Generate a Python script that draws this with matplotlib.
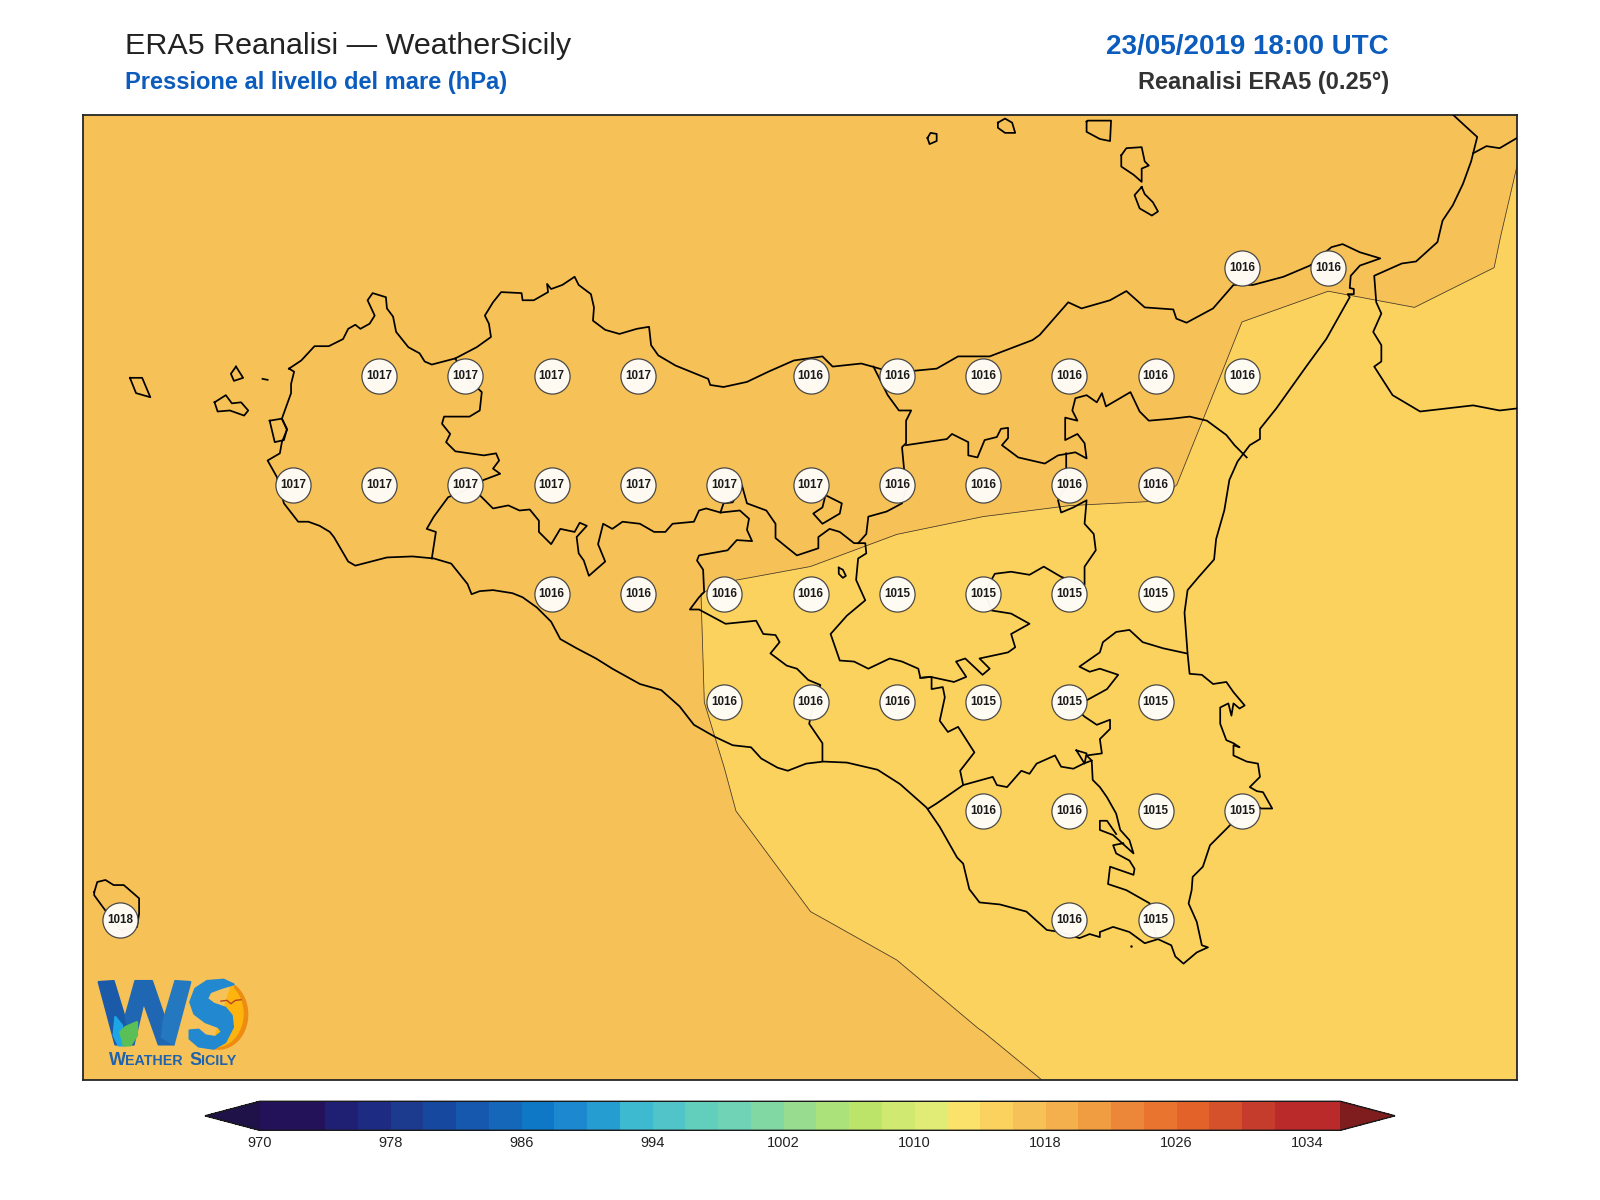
import numpy as np
import matplotlib
matplotlib.use("Agg")
import matplotlib.pyplot as plt
from matplotlib.colors import ListedColormap, BoundaryNorm
from matplotlib.patches import Polygon

plt.rcParams['font.family'] = ['Liberation Sans', 'DejaVu Sans']

TITLE = "ERA5 Reanalisi \u2014 WeatherSicily"
SUBTITLE = "Pressione al livello del mare (hPa)"
DATE_TEXT = "23/05/2019 18:00 UTC"
SOURCE_TEXT = "Reanalisi ERA5 (0.25\u00b0)"

LEVELS = list(range(970, 1038, 2))
CBAR_TICKS = list(range(970, 1035, 8))
LEVEL_COLORS = ["#23115a", "#23115a", "#1f1f73", "#1e2b82", "#1c3a8e", "#1748a0", "#1558ae", "#1467b9",
                "#0e78c7", "#1b88cf", "#259dd0", "#3db9d0", "#50c4c8", "#62cfbd", "#70d3b5", "#82d8a2",
                "#97dc8f", "#ace27a", "#bbe468", "#d0e970", "#e0ec75", "#fbe36b", "#fcd25e", "#f6c156",
                "#f4b04c", "#f09c40", "#ec8638", "#e87430", "#e2622a", "#d4512c", "#c63c2c", "#bb2a2b", "#bb2a2b"]
UNDER_COLOR = "#1e1248"
OVER_COLOR = "#7f1d1e"

# ERA5 grid, 0.25 deg (sea level pressure, departure from 1016 hPa)
GRID_LON = [11.75 + 0.25 * i for i in range(19)]
GRID_LAT = [38.75, 38.5, 38.25, 38.0, 37.75, 37.5, 37.25, 37.0, 36.75, 36.5, 36.25]
P_3875 = [.9, .9, .85, .8, .8, .75, .7, .65, .6, .55, .5, .45, .4, .35, .3, .25, .2, .1, .05]
P_3850 = [1.0, .95, .9, .85, .85, .8, .75, .7, .6, .55, .5, .45, .4, .3, .25, .2, .15, .06, -.23]
P_3825 = [1.05, 1.0, .95, .9, .85, .8, .75, .7, .6, .5, .45, .4, .3, .2, .10, .05, .3, -.025, -.3]
P_3800 = [1.15, 1.1, 1.0, .9, .85, .75, .65, .55, .5, .45, .4, .35, .3, .30, -.10, -.18, -.52, -.7, -.8]
P_3775 = [1.25, 1.2, 1.1, 1.0, .95, .85, .8, .7, .6, .6, .45, .25, .15, .10, -.31, -.6, -.75, -.85, -.9]
P_3750 = [1.35, 1.3, 1.15, 1.0, .85, .6, .35, .19, -.07, -.2, -.54, -.61, -.64, -.57, -.7, -.8, -.85, -.9, -.95]
P_3725 = [1.45, 1.4, 1.2, 1.0, .85, .7, .55, .40, -.12, -.3, -.4, -.55, -.6, -.6, -.7, -.8, -.85, -.9, -.95]
P_3700 = [1.55, 1.5, 1.3, 1.1, .9, .7, .5, .25, .08, -.506, -.55, -.6, -.48, -.55, -.6, -.7, -.8, -.85, -.9]
P_3675 = [1.65, 1.6, 1.4, 1.2, 1.0, .8, .6, .4, .2, .041, -.2, -.3, -.4, -.55, -.6, -.7, -.75, -.8, -.85]
P_3650 = [1.7, 1.6, 1.4, 1.25, 1.1, .95, .8, .65, .5, .42, .34, -.02, -.3, -.5, -.6, -.65, -.7, -.75, -.8]
P_3625 = [1.75, 1.65, 1.5, 1.35, 1.2, 1.05, .95, .85, .75, .7, .68, .65, .14, -.3, -.5, -.6, -.65, -.7, -.75]

STATION_LON = [15.25, 15.5,
               12.75, 13.0, 13.25, 13.5, 14.0, 14.25, 14.5, 14.75, 15.0, 15.25,
               12.5, 12.75, 13.0, 13.25, 13.5, 13.75, 14.0, 14.25, 14.5, 14.75, 15.0,
               13.25, 13.5, 13.75, 14.0, 14.25, 14.5, 14.75, 15.0,
               13.75, 14.0, 14.25, 14.5, 14.75, 15.0,
               14.5, 14.75, 15.0, 15.25,
               12.0, 14.75, 15.0]
STATION_LAT = [38.25, 38.25,
               38.0, 38.0, 38.0, 38.0, 38.0, 38.0, 38.0, 38.0, 38.0, 38.0,
               37.75, 37.75, 37.75, 37.75, 37.75, 37.75, 37.75, 37.75, 37.75, 37.75, 37.75,
               37.5, 37.5, 37.5, 37.5, 37.5, 37.5, 37.5, 37.5,
               37.25, 37.25, 37.25, 37.25, 37.25, 37.25,
               37.0, 37.0, 37.0, 37.0,
               36.75, 36.75, 36.75]
STATION_HPA = [1016, 1016,
               1017, 1017, 1017, 1017, 1016, 1016, 1016, 1016, 1016, 1016,
               1017, 1017, 1017, 1017, 1017, 1017, 1017, 1016, 1016, 1016, 1016,
               1016, 1016, 1016, 1016, 1015, 1015, 1015, 1015,
               1016, 1016, 1016, 1015, 1015, 1015,
               1016, 1016, 1015, 1015,
               1018, 1016, 1015]

# Coast and boundary outlines (picture units, converted to lon/lat below)
SICILY = [(283,361),(295,353),(308,339),(322,339),(336,332),(341,322),(348,318),(353,322),(362,317),(367,309),
          (360,294),(365,287),(378,291),(379,302),(385,310),(388,325),(400,340),(411,346),(416,354),(423,357),
          (446,351),(467,340),(481,330),(479,317),(475,309),(483,296),(491,286),(511,287),(512,294),(523,294),
          (537,286),(536,278),(540,283),(551,279),(563,271),(567,279),(579,288),(582,301),(581,314),(593,323),
          (607,327),(624,322),(636,320),(638,338),(645,348),(662,358),(694,371),(696,377),(709,379),(732,374),(753,364),
          (778,353),(806,349),(816,359),(844,356),(855,359),(879,366),(897,363),(918,361),(939,349),(970,349),
          (991,341),(1012,333),(1019,328),(1047,296),(1060,302),(1088,294),(1104,285),(1122,301),(1150,303),
          (1153,312),(1163,316),(1189,302),(1209,279),(1228,279),(1258,271),(1284,260),(1305,242),(1316,239),
          (1333,247),(1353,253),(1333,260),(1324,270),(1323,282),(1327,283),(1327,288),(1321,288),(1323,291),(1300,332),(1281,358),(1251,400),
          (1235,420),(1235,430),(1225,436),(1213,452),(1205,470),(1200,500),(1192,528),(1190,548),(1175,565),
          (1164,578),(1161,600),(1164,640),(1166,660),(1178,661),(1189,670),(1202,668),(1209,678),(1220,691),
          (1215,694),(1209,689),(1207,701),(1204,689),(1196,693),(1196,709),(1202,725),(1209,728),(1215,732),
          (1209,730),(1209,740),(1222,746),(1233,748),(1235,761),(1225,771),(1232,775),(1238,776),(1247,792),
          (1236,792),(1228,785),(1204,810),(1186,828),(1179,849),(1169,859),(1168,872),(1165,885),(1173,903),
          (1178,926),(1184,928),(1173,933),(1160,944),(1152,937),(1148,926),(1135,920),(1122,924),(1107,913),
          (1091,908),(1078,913),(1078,918),(1068,915),(1058,919),(1039,913),(1026,911),(1006,893),(980,886),
          (960,884),(950,871),(944,846),(938,840),(921,810),(908,791),(882,768),(860,754),(830,747),(807,746),
          (790,748),(772,755),(762,752),(746,743),(736,732),(718,730),(701,722),(680,710),(666,692),(648,676),
          (627,670),(600,655),(584,645),(565,635),(549,626),(540,609),(526,595),(512,585),(502,581),(483,578),
          (470,579),(462,582),(458,572),(442,552),(425,547),(404,545),(379,546),(348,554),(341,550),(327,526),
          (323,521),(313,515),(302,511),(292,511),(278,493),(271,467),(262,451),(274,444),(276,433),(281,421),
          (276,410),(285,385),(285,376),(288,364),(283,361)]
TRAPANI_BORDER = [(446,351),(456,369),(472,384),(470,402),(460,408),(435,408),(433,415),(441,425),(437,433),
                  (446,442),(474,446),(486,444),(489,451),(483,459),(490,464),(474,470),(456,480),(439,487),
                  (425,506),(418,518),(427,521),(423,547)]
PALERMO_SOUTH = [(470,485),(483,498),(498,495),(509,500),(519,499),(528,510),(528,521),(540,533),(549,518),
                 (563,521),(568,512),(575,515),(565,526),(567,542),(572,549),(577,564),(593,550),(586,533),
                 (591,513),(600,518),(610,511),(627,513),(641,521),(652,521),(659,513),(680,511),(685,500),
                 (692,498),(706,502),(725,500),(734,508),(732,519),(737,530),(722,529),(713,539),(685,544),
                 (683,549),(689,558),(690,580),(685,585),(676,597),(685,597),(711,611),(741,608),(748,621),
                 (760,622),(764,629),(755,640),(771,652),(781,655),(792,666),(804,671),(797,690),(793,709),
                 (806,728),(806,745)]
ENNA_LOOP = [(706,502),(709,493),(718,492),(727,475),(732,493),(751,500),(760,513),(760,527),(771,536),(781,544),
             (802,537),(802,526),(813,518),(823,521),(837,532),(848,532),(849,542),(841,547),(839,568),(848,588),
             (830,603),(814,621),(823,647),(837,648),(851,655),(872,645),(884,648),(900,655),(902,664),(912,663),
             (935,668),(947,663),(937,648),(946,645),(963,661),(970,655),(960,645),(988,639),(995,634),(991,621),
             (1009,611),(991,601),(972,598),(965,580),(975,562),(991,560),(1009,563),(1023,555),(1040,565),
             (1063,573),(1063,555),(1074,539),(1072,523),(1063,513),(1065,490),(1052,497),(1040,502),(1037,490),
             (1045,475),(1045,457),(1045,444)]
MESSINA_WEST = [(856,359),(870,387),(881,402),(893,402),(888,412),(888,434),(884,438),(886,459),(888,478),(884,493),
                (869,501),(851,506),(849,523),(841,532)]
MESSINA_SOUTH = [(888,436),(928,430),(933,425),(949,433),(949,446),(958,448),(965,431),(977,428),(981,420),(988,419),
                 (988,429),(982,436),(998,448),(1024,454),(1037,446),(1054,443),(1065,449),(1063,434),(1056,425),
                 (1044,431),(1044,409),(1056,412),(1051,402),(1054,390),(1065,387),(1075,394),(1080,385),(1084,398),
                 (1108,384),(1117,403),(1126,412),(1149,410),(1166,408),(1183,412),(1202,426),(1210,436),(1222,448)]
MADONIE_LOOP = [(809,485),(825,493),(823,503),(806,513),(797,503),(806,497),(809,485)]
LAKE = [(822,556),(826,558),(829,564),(826,566),(822,562),(822,556)]
CALTANISSETTA = [(902,664),(913,663),(913,675),(924,673),(926,683),(921,706),(929,717),(939,712),(955,737),(941,755),
                 (944,769),(918,787),(910,792)]
RAGUSA_NORTH = [(944,769),(973,761),(977,769),(987,771),(1001,755),(1009,758),(1016,748),(1034,740),(1040,751),
                (1052,753),(1062,748),(1070,745),(1071,764),(1078,771),(1085,781),(1094,797),(1098,813),(1107,823),
                (1111,836),(1091,818),(1078,813),(1078,804),(1085,804),(1094,817)]
RAGUSA_EAST = [(1101,826),(1091,828),(1094,836),(1107,843),(1112,851),(1111,857),(1088,849),(1086,866),(1104,872),
               (1127,885),(1133,918)]
CATANIA_NORTH = [(1048,688),(1065,686),(1085,675),(1096,661),(1078,655),(1068,658),(1058,653),(1078,639),(1081,629),
                 (1094,619),(1107,617),(1120,629),(1140,635),(1163,640)]
CATANIA_SOUTH = [(1048,688),(1063,702),(1075,710),(1088,705),(1088,714),(1078,724),(1080,738),(1065,740),(1070,745)]
LENTINI = [(1055,735),(1063,748),(1065,738),(1055,735)]
CALABRIA = [(1424,112),(1437,124),(1448,134),(1442,158),(1434,180),(1424,201),(1414,216),(1409,237),(1388,256),
            (1374,258),(1347,270),(1349,296),(1354,307),(1346,325),(1354,338),(1354,354),(1347,359),(1365,387),
            (1392,403),(1444,397),(1470,402),(1487,400)]
CALABRIA_NORTH = [(1444,150),(1457,143),(1470,145),(1487,135)]
SALINA = [(1065,119),(1066,118),(1089,118),(1088,138),(1078,136),(1065,129),(1065,119)]
LIPARI = [(1099,152),(1104,145),(1119,144),(1122,158),(1126,162),(1119,165),(1119,178),(1111,171),(1099,163),(1099,152)]
VULCANO = [(1119,183),(1112,191),(1117,204),(1129,211),(1135,207),(1130,198),(1122,190),(1119,183)]
ALICUDI = [(909,135),(912,130),(918,131),(918,138),(911,141),(909,135)]
FILICUDI = [(978,120),(985,116),(992,120),(995,130),(985,130),(978,125),(978,120)]
MARETTIMO = [(127,370),(139,370),(147,389),(133,385),(127,370)]
FAVIGNANA = [(210,394),(221,387),(227,395),(236,394),(243,402),(239,407),(225,402),(213,403),(210,394)]
LEVANZO = [(231,359),(238,370),(229,373),(226,366),(231,359)]
FORMICA = [(257,371),(262,372)]
STAGNONE = [(264,412),(276,410),(281,420),(278,431),(269,433),(264,412)]
PANTELLERIA = [(92,874),(95,864),(103,862),(111,867),(121,867),(136,880),(136,895),(134,908),(118,911),(103,892),(92,877),(92,874)]
OUTLINES = [SICILY, TRAPANI_BORDER, PALERMO_SOUTH, ENNA_LOOP, MESSINA_WEST, MESSINA_SOUTH, MADONIE_LOOP, LAKE,
            CALTANISSETTA, RAGUSA_NORTH, RAGUSA_EAST, CATANIA_NORTH, CATANIA_SOUTH, LENTINI, CALABRIA, CALABRIA_NORTH,
            SALINA, LIPARI, VULCANO, ALICUDI, FILICUDI, MARETTIMO, FAVIGNANA, LEVANZO, FORMICA, STAGNONE, PANTELLERIA]

# Logo outlines (crop units of the reference logo)
W_LEFT = [(25, 35), (70, 32), (115, 180), (130, 222), (75, 222)]
W_MID = [(105, 140), (135, 32), (185, 32), (250, 222), (205, 222), (160, 95), (130, 222)]
W_RIGHT = [(220, 150), (255, 32), (300, 35), (250, 222), (215, 200)]
DROP = [(75, 140), (95, 165), (95, 195), (105, 225), (85, 225), (70, 195)]
LEAF = [(90, 185), (105, 170), (140, 155), (140, 195), (120, 225), (100, 225)]
S_BODY = [(430, 42), (400, 28), (350, 32), (315, 55), (300, 95), (312, 130), (345, 155), (385, 170), (395, 185),
          (375, 200), (345, 195), (325, 178), (298, 180), (298, 205), (325, 228), (370, 235), (405, 215), (428, 170),
          (424, 135), (405, 112), (370, 100), (350, 85), (360, 65), (395, 52)]
BIRD_X = [392, 410, 422, 435, 452]
BIRD_Y = [92, 90, 100, 90, 88]


def to_lon(x):
    return 12.0 + (np.asarray(x, float) - 117.5) / 338.4


def to_lat(y):
    return 38.25 - (np.asarray(y, float) - 262.0) / 426.0


fig = plt.figure(figsize=(16, 12), dpi=100, facecolor="white")
ax = fig.add_axes([83 / 1600, 1 - 1080 / 1200, (1517 - 83) / 1600, (1080 - 114.5) / 1200])

cmap = ListedColormap(LEVEL_COLORS)
cmap.set_under(UNDER_COLOR)
cmap.set_over(OVER_COLOR)
norm = BoundaryNorm(LEVELS, cmap.N)
pressure = 1016 + np.array([P_3875, P_3850, P_3825, P_3800, P_3775, P_3750, P_3725, P_3700, P_3675, P_3650, P_3625])
cf = ax.contourf(GRID_LON, GRID_LAT, pressure, levels=LEVELS, cmap=cmap, norm=norm, extend='both')
ax.contour(GRID_LON, GRID_LAT, pressure, levels=LEVELS, colors="#222222", linewidths=0.55, alpha=0.85)

for line in OUTLINES:
    pts = np.array(line, float)
    ax.plot(to_lon(pts[:, 0]), to_lat(pts[:, 1]), color="black", lw=1.25, zorder=3, solid_joinstyle='round')
ax.plot(to_lon([1109]), to_lat([927]), '.', color='black', ms=1.5, zorder=3)

ax.scatter(STATION_LON, STATION_LAT, s=640, facecolor="#fffdf8", edgecolor="#444444", linewidth=0.9, alpha=0.97, zorder=4)
for lon, lat, val in zip(STATION_LON, STATION_LAT, STATION_HPA):
    ax.text(lon, lat, str(val), ha='center', va='center', fontsize=8.4, fontweight='bold', color="#1a1a1a", zorder=5)

ax.set_xlim(to_lon(81), to_lon(1487))
ax.set_ylim(to_lat(1058), to_lat(112))
ax.set_xticks([])
ax.set_yticks([])
for s in ax.spines.values():
    s.set_linewidth(1.3)
    s.set_color("#262626")


def lx(X):
    return to_lon(88.2 + 0.3267 * np.asarray(X, float))


def ly(Y):
    return to_lat(950.6 + 0.3267 * np.asarray(Y, float))


def lpoly(pts, color, z=6):
    p = np.array(pts, float)
    ax.add_patch(Polygon(np.c_[lx(p[:, 0]), ly(p[:, 1])], closed=True, zorder=z, facecolor=color,
                         edgecolor=color, lw=1.6, joinstyle='round'))


lpoly(W_LEFT, "#1a5aa8")
lpoly(W_MID, "#1f66b3")
lpoly(W_RIGHT, "#2378bf")
lpoly(DROP, "#1da6e6", 7)
lpoly(LEAF, "#5abf57", 8)
t = np.radians(np.arange(-55, 105, 8))
lpoly(np.c_[385 + 86 * np.cos(t), 132 + 103 * np.sin(t)], "#ee8c12", 6)
lpoly(np.c_[377 + 80 * np.cos(t), 130 + 98 * np.sin(t)], "#fdb40e", 6)
lpoly(S_BODY, "#2288d0", 7)
ax.plot(lx(BIRD_X), ly(BIRD_Y), color="#b5451e", lw=1.0, zorder=8)
for px_x, piece, size in [(106, "W", 13), (122.5, "EATHER", 10.3), (185.2, "S", 13), (197, "ICILY", 10.3)]:
    ax.text(to_lon(px_x), to_lat(1043.7), piece, ha='left', va='baseline', fontsize=size, fontweight='bold',
            color="#1f62ad", zorder=8)

cax = fig.add_axes([205 / 1600, 1 - 1130.3 / 1200, 1190 / 1600, 29 / 1200])
cb = fig.colorbar(cf, cax=cax, orientation='horizontal', ticks=CBAR_TICKS, extend='both', extendfrac=0.0505,
                  spacing='uniform', drawedges=False)
cb.ax.minorticks_off()
cb.ax.tick_params(which='both', length=0, labelsize=10.5, pad=4, labelcolor="#222222")
cb.outline.set_linewidth(1.0)
cb.outline.set_edgecolor("#1a1a1a")

fig.text(124.5 / 1600, 1 - 46 / 1200, TITLE, fontsize=21.95, color="#222222", ha='left', va='center')
fig.text(124.5 / 1600, 1 - 82 / 1200, SUBTITLE, fontsize=17, fontweight='bold', color="#0b5cbd", ha='left', va='center')
fig.text(1389 / 1600, 1 - 47 / 1200, DATE_TEXT, fontsize=20, fontweight='bold', color="#0b5cbd", ha='right', va='center')
fig.text(1389 / 1600, 1 - 82 / 1200, SOURCE_TEXT, fontsize=17, fontweight='bold', color="#333333", ha='right', va='center')

fig.savefig("out.png", dpi=100, facecolor="white")
